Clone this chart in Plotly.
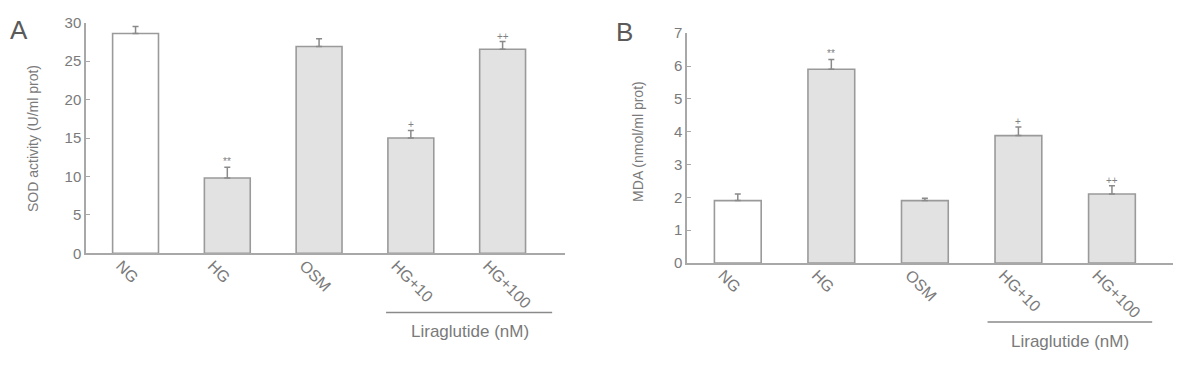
import plotly.graph_objects as go

categories = ["NG", "HG", "OSM", "HG+10", "HG+100"]
sod_values = [28.6, 9.8, 26.9, 15.0, 26.55]
sod_errors = [0.9, 1.4, 1.0, 1.0, 1.0]
mda_values = [1.9, 5.9, 1.9, 3.88, 2.1]
mda_errors = [0.2, 0.3, 0.07, 0.26, 0.25]
sig_labels_a = ["", "**", "", "+", "++"]
sig_labels_b = ["", "**", "", "+", "++"]
bar_fills = ["#ffffff", "#e2e2e2", "#e2e2e2", "#e2e2e2", "#e2e2e2"]

TXT = "#7a7a7a"
LINE = "#a8a8a8"
FONT = "Liberation Sans, Arial, sans-serif"

# page has an 8px body margin; work in page pixel coordinates
OFF = 8
W, H = 1181 - OFF, 372 - OFF
def px(x):
    return (x - OFF) / W
def py(y):
    return 1 - (y - OFF) / H

fig = go.Figure()

def add_bars(xa, ya, vals, errs):
    fig.add_trace(go.Bar(
        x=categories, y=vals, width=0.5, xaxis=xa, yaxis=ya,
        marker=dict(color=bar_fills, line=dict(color="#9a9a9a", width=1.6)),
        error_y=dict(type="data", array=errs, arrayminus=[0]*len(errs), symmetric=False,
                     color="#8a8a8a", thickness=1.5, width=3),
        showlegend=False, cliponaxis=False))

add_bars("x", "y", sod_values, sod_errors)
add_bars("x2", "y2", mda_values, mda_errors)

common_x = dict(type="category", showline=True, linecolor=LINE, linewidth=1.5,
                ticks="", tickangle=45, tickfont=dict(size=16, color=TXT, family=FONT),
                ticklabelshift=-15, ticklabelstandoff=-5,
                showgrid=False, zeroline=False, fixedrange=True)
common_y = dict(showline=True, linecolor=LINE, linewidth=1.5, ticks="inside", ticklen=4,
                tickcolor=LINE, tickwidth=1.2, tickfont=dict(size=15, color=TXT, family=FONT),
                showgrid=False, zeroline=False)

fig.update_layout(
    width=W, height=H, margin=dict(l=0, r=0, t=0, b=0),
    plot_bgcolor="white", paper_bgcolor="white", bargap=0.5,
    font=dict(family=FONT, color=TXT),
    xaxis=dict(common_x, domain=[px(86), px(565)], range=[-0.54, 4.68], anchor="y"),
    yaxis=dict(common_y, domain=[py(256), py(14)], range=[0, 30], dtick=5, anchor="x"),
    xaxis2=dict(common_x, domain=[px(687), px(1175)], range=[-0.543, 4.674], anchor="y2"),
    yaxis2=dict(common_y, domain=[py(266), py(25)], range=[0, 7], dtick=1, anchor="x2"),
)

ann = []
for i, c in enumerate(categories):
    if sig_labels_a[i]:
        ann.append(dict(x=c, y=sod_values[i]+sod_errors[i], xref="x", yref="y", text=sig_labels_a[i],
                        showarrow=False, yanchor="bottom", font=dict(size=10, color="#808080"), yshift=-2))
    if sig_labels_b[i]:
        ann.append(dict(x=c, y=mda_values[i]+mda_errors[i], xref="x2", yref="y2", text=sig_labels_b[i],
                        showarrow=False, yanchor="bottom", font=dict(size=10, color="#808080"), yshift=-2))

ann += [
    dict(x=px(33), y=py(136), xref="paper", yref="paper", xanchor="center", yanchor="middle",
         text="SOD activity (U/ml prot)", textangle=-90, showarrow=False, font=dict(size=14, color=TXT)),
    dict(x=px(638), y=py(139), xref="paper", yref="paper", xanchor="center", yanchor="middle",
         text="MDA (nmol/ml prot)", textangle=-90, showarrow=False, font=dict(size=14, color=TXT)),
    dict(x=3.64, y=py(338), xref="x", yref="paper", yanchor="middle", text="Liraglutide (nM)",
         showarrow=False, font=dict(size=17, color=TXT)),
    dict(x=3.55, y=py(348), xref="x2", yref="paper", yanchor="middle", text="Liraglutide (nM)",
         showarrow=False, font=dict(size=17, color=TXT)),
    dict(x=0, y=1, xref="paper", yref="paper", text="A", xanchor="left", yanchor="top", yshift=4,
         showarrow=False, font=dict(size=26, color="#5a5a5a")),
    dict(x=px(614), y=1, xref="paper", yref="paper", text="B", xanchor="left", yanchor="top", yshift=2,
         showarrow=False, font=dict(size=26, color="#5a5a5a")),
]
fig.update_layout(annotations=ann)

fig.add_shape(type="line", xref="x", yref="paper", x0=2.73, x1=4.54, y0=py(318), y1=py(318),
              line=dict(color="#8a8a8a", width=1.5))
fig.add_shape(type="line", xref="x2", yref="paper", x0=2.67, x1=4.43, y0=py(328), y1=py(328),
              line=dict(color="#8a8a8a", width=1.5))

fig.write_html("out.html")
